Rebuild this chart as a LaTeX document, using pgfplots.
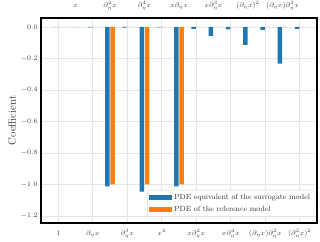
\documentclass[border=0pt]{standalone}
\usepackage{pgfplots}
\pgfplotsset{compat=1.18}
\definecolor{tabblue}{HTML}{1F77B4}
\definecolor{taborange}{HTML}{FF7F0E}
\definecolor{gridgray}{HTML}{E6E6E6}
\begin{document}
\begin{tikzpicture}
\pgfplotsset{
  common/.style={
    width=276bp, height=205bp, scale only axis,
    xmin=-1, xmax=15, ymin=-1.245, ymax=0.057,
    major tick length=0,
    tick label style={font=\fontsize{7.5}{9}\selectfont, text=black!75},
  }
}
\begin{axis}[common,
  axis line style={line width=1.3pt, black},
  xtick={0,2,...,14},
  xticklabels={$1$,$\partial_\eta x$,$\partial_\eta^3 x$,$x^2$,$x\partial_\eta^2 x$,$x\partial_\eta^4 x$,$(\partial_\eta x)\partial_\eta^2 x$,$(\partial_\eta^2 x)^2$},
  xticklabel style={text height=6.5pt, text depth=2pt, inner sep=0pt, yshift=-5.5pt},
  ytick={-1.2,-1.0,...,0.01},
  yticklabel style={/pgf/number format/.cd, fixed, fixed zerofill, precision=1},
  grid=major,
  major grid style={gridgray, line width=0.6pt},
  ylabel={Coefficient},
  ylabel style={font=\fontsize{11}{12}\selectfont, text=black!80, at={(axis description cs:-0.105,0.5)}, anchor=center},
  legend style={at={(0.99,0.03)}, anchor=south east, draw=black!15, rounded corners=1.5pt,
    font=\fontsize{7.5}{9}\selectfont, text=black!80, cells={anchor=west}, inner sep=2pt, row sep=1pt},
  legend image code/.code={\fill[#1, sharp corners] (0pt,-2.3pt) rectangle (23pt,2.3pt);},
]
\addplot[ybar, bar width=0.27, bar shift=-0.15, fill=tabblue, draw=none] coordinates {
 (0,0) (1,0) (2,-0.003) (3,-1.012) (4,-0.004) (5,-1.045) (6,-0.003) (7,-1.012)
 (8,-0.012) (9,-0.057) (10,-0.015) (11,-0.113) (12,-0.018) (13,-0.233) (14,-0.012)};
\addlegendentry{PDE equivalent of the surrogate model}
\addplot[ybar, bar width=0.27, bar shift=0.15, fill=taborange, draw=none] coordinates {
 (0,0) (1,0) (2,0) (3,-1.0) (4,0) (5,-1.0) (6,0) (7,-1.0)
 (8,0) (9,0) (10,0) (11,0) (12,0) (13,0) (14,0)};
\addlegendentry{PDE of the reference model}
\end{axis}
\begin{axis}[common,
  axis x line*=top, axis y line=none,
  xtick={1,3,...,13},
  xticklabels={$x$,$\partial_\eta^2 x$,$\partial_\eta^4 x$,$x\partial_\eta x$,$x\partial_\eta^3 x$,$(\partial_\eta x)^2$,$(\partial_\eta x)\partial_\eta^3 x$},
  xticklabel style={text height=6.5pt, text depth=2pt, inner sep=0pt, yshift=8pt},
  axis line style={draw=none},
]
\end{axis}
\pgfresetboundingbox
\useasboundingbox ([xshift=-41bp,yshift=-19bp]current axis.south west) rectangle ([xshift=3bp,yshift=18bp]current axis.north east);
\end{tikzpicture}
\end{document}
